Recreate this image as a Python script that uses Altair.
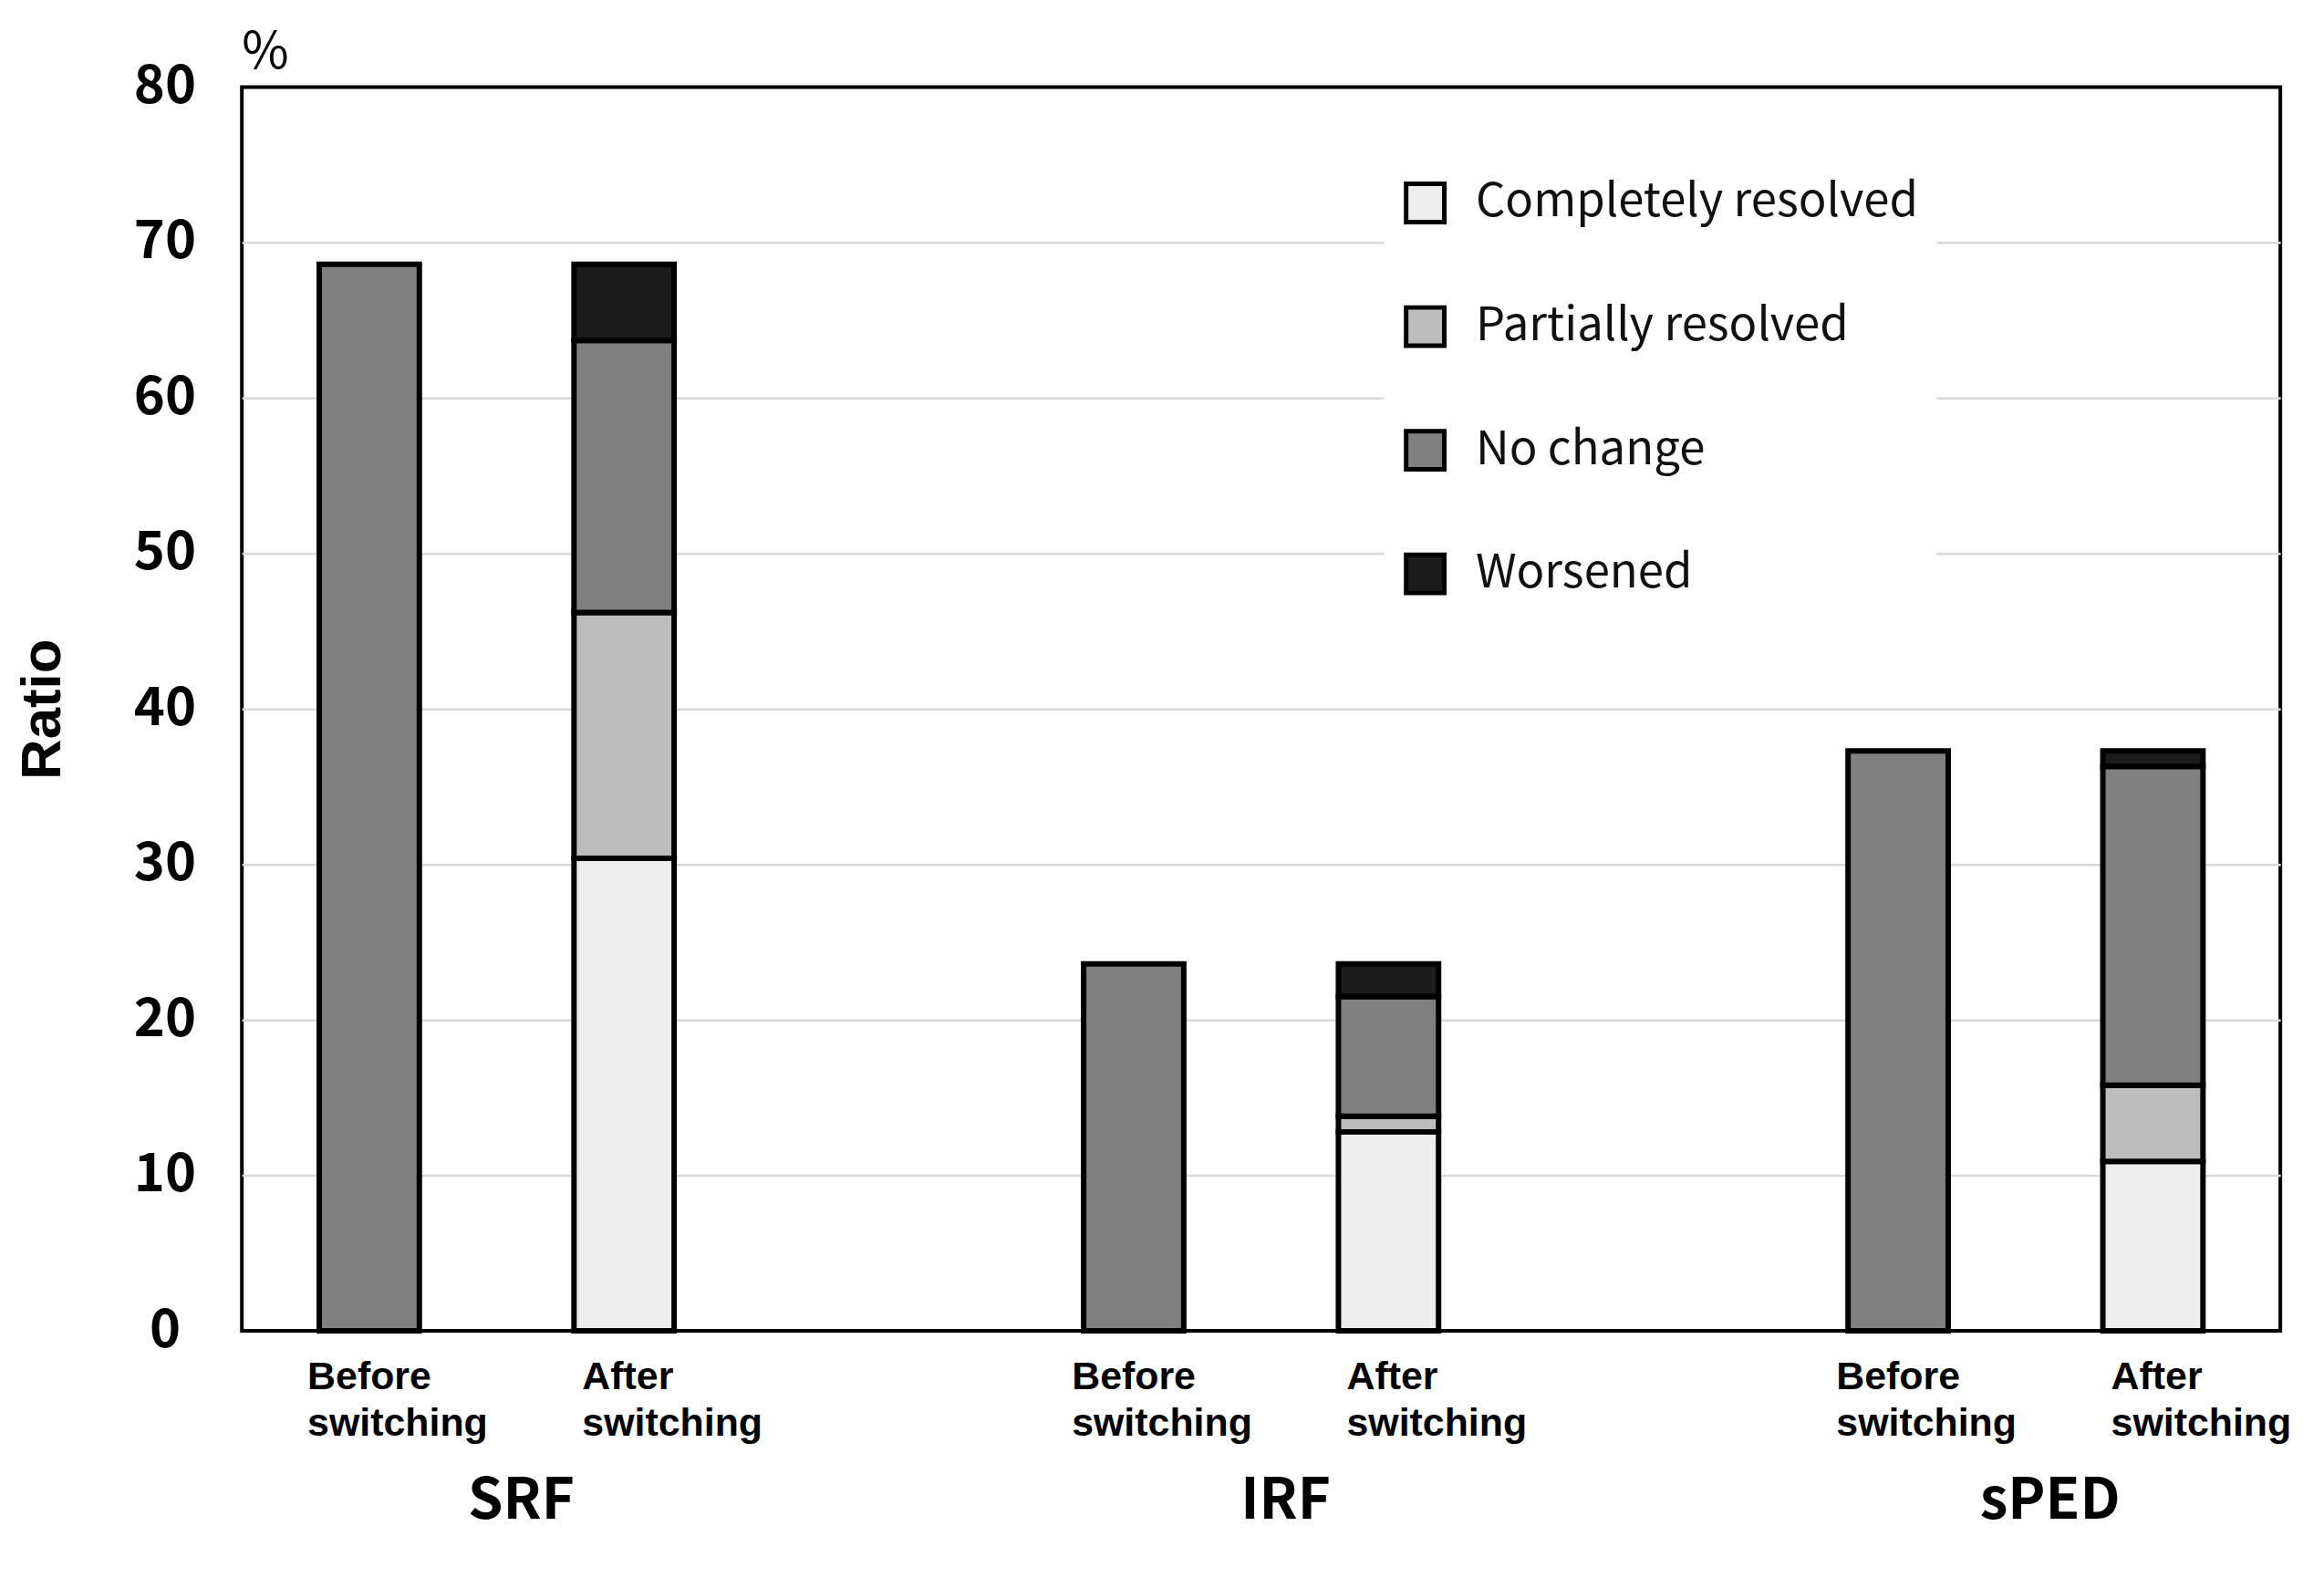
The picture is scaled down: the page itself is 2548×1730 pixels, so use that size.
import altair as alt
import pandas as pd

FONT = "Noto Sans CJK JP"
FONT2 = "Liberation Sans"

groups = ["SRF", "IRF", "sPED"]
timings = ["Before", "After"]
timing_labels = ["Before\nswitching", "After\nswitching"]
statuses = ["Completely resolved", "Partially resolved", "No change", "Worsened"]
status_colors = ["#ededed", "#bdbdbd", "#808080", "#1c1c1c"]
unit_label = ["%"]

# Before switching: whole bar is the baseline prevalence (drawn as "No change")
before_no_change = [68.6, 23.6, 37.3]
# After switching segments
after_complete = [30.4, 12.8, 10.9]
after_partial = [15.8, 1.0, 4.9]
after_no_change = [17.5, 7.7, 20.5]
after_worsened = [4.9, 2.1, 1.0]

rows = []
for i, g in enumerate(groups):
    rows.append({"group": g, "timing": "Before", "status": "No change",
                 "value": before_no_change[i], "ord": 2})
    for k, (s, vals) in enumerate(zip(statuses, [after_complete, after_partial,
                                                 after_no_change, after_worsened])):
        rows.append({"group": g, "timing": "After", "status": s,
                     "value": vals[i], "ord": k})
df = pd.DataFrame(rows)

lab_rows = []
for g in groups:
    for t, lab in zip(timings, timing_labels):
        lab_rows.append({"group": g, "timing": t, "label": lab})
lab_df = pd.DataFrame(lab_rows)

W, H = 2242, 1368

x_enc = alt.X(
    "group:N", sort=groups,
    scale=alt.Scale(paddingInner=1 / 3, paddingOuter=0),
    axis=alt.Axis(title=None, labelAngle=0, labelFont=FONT, labelFontSize=62,
                  labelFontWeight="bold", labelColor="black", labelPadding=157,
                  labelOffset=27, ticks=False, domain=False, grid=False),
)
xo_enc = alt.XOffset(
    "timing:N", sort=timings,
    scale=alt.Scale(paddingInner=0.607, paddingOuter=0.3036),
)

bars = alt.Chart(df).mark_bar(stroke="black", strokeWidth=6, opacity=1).encode(
    x=x_enc,
    xOffset=xo_enc,
    y=alt.Y(
        "value:Q", stack="zero",
        scale=alt.Scale(domain=[0, 80], nice=False),
        axis=alt.Axis(
            title="Ratio", values=list(range(0, 81, 10)), grid=True,
            gridColor="#d9d9d9", gridWidth=2.5,
            gridOpacity={"condition": {"test": "datum.value === 0 || datum.value === 80",
                                       "value": 0}, "value": 1},
            domain=False, ticks=False,
            labelFont=FONT, labelFontSize=58, labelFontWeight="bold",
            labelColor="black", labelAlign="center", labelPadding=85,
            titleFont=FONT2, titleFontSize=62, titleFontWeight="bold",
            titleColor="black", titleAngle=-90, titleX=-200, titleY=H / 2,
            titleBaseline="alphabetic", titleAlign="center",
        ),
    ),
    color=alt.Color(
        "status:N",
        scale=alt.Scale(domain=statuses, range=status_colors),
        legend=alt.Legend(
            title=None, orient="none", legendX=1256, legendY=82,
            symbolType="square", symbolSize=1764, symbolStrokeColor="black",
            symbolStrokeWidth=5, symbolOpacity=1, labelFont=FONT,
            labelFontSize=51, labelFontWeight="normal", labelColor="#111111",
            labelOffset=30, labelLimit=0, rowPadding=73, fillColor="white",
            padding=20,
        ),
    ),
    order=alt.Order("ord:Q", sort="ascending"),
)

label_base = alt.Chart(lab_df)
before_labels = label_base.transform_filter(alt.datum.timing == "Before").mark_text(
    align="left", baseline="alphabetic", font=FONT2, fontSize=43,
    fontWeight="bold", color="black", lineBreak="\n", lineHeight=51, dx=-68,
).encode(x=alt.X("group:N", sort=groups), xOffset=alt.XOffset("timing:N", sort=timings),
         y=alt.value(1432), text="label:N")
after_labels = label_base.transform_filter(alt.datum.timing == "After").mark_text(
    align="left", baseline="alphabetic", font=FONT2, fontSize=43,
    fontWeight="bold", color="black", lineBreak="\n", lineHeight=51, dx=-46,
).encode(x=alt.X("group:N", sort=groups), xOffset=alt.XOffset("timing:N", sort=timings),
         y=alt.value(1432), text="label:N")

unit = alt.Chart(pd.DataFrame({"t": unit_label})).mark_text(
    align="left", baseline="alphabetic", font=FONT, fontSize=56,
    fontWeight="normal", color="black",
).encode(x=alt.value(0), y=alt.value(-20), text="t:N")

chart = alt.layer(bars, before_labels, after_labels, unit).properties(
    width=W, height=H,
    background="white",
    view=alt.ViewBackground(stroke="black", strokeWidth=4),
    autosize=alt.AutoSizeParams(type="none"),
    padding={"left": 258, "top": 85, "right": 40, "bottom": 230},
).configure_view(stroke="black", strokeWidth=4)

chart.save("out.html", embed_options={"renderer": "svg", "actions": False})
